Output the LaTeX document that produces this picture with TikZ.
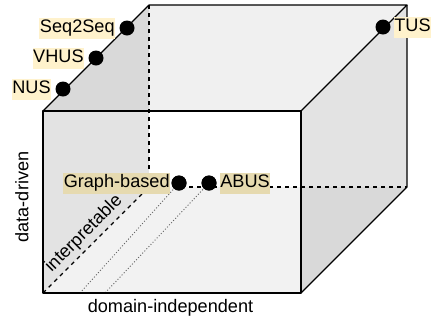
\documentclass[tikz,border=0pt]{standalone}
\usepackage{fontspec}
\setmainfont{Liberation Sans}
\definecolor{cdark}{HTML}{D9D9D9}
\definecolor{ctop}{HTML}{F0F0F0}
\definecolor{cmid}{HTML}{E3E3E3}
\definecolor{clight}{HTML}{F2F2F2}
\definecolor{labyel}{HTML}{FFF2CC}
\definecolor{labtan}{HTML}{E6DAB0}
\begin{document}
\begin{tikzpicture}[x=1bp,y=-1bp,
  edge/.style={line width=1.2bp, line join=round},
  hidden/.style={line width=1.2bp, dash pattern=on 4bp off 4bp},
  dotline/.style={line width=0.9bp, dash pattern=on 1bp off 2bp, black!60},
  dot/.style={circle, fill=black, inner sep=0pt, minimum size=15bp},
  lab/.style={fill=labyel, inner xsep=0.5bp, inner ysep=2bp, font=\fontsize{18.2}{21}\selectfont, text height=13.2bp, text depth=3.8bp},
  labin/.style={lab, fill=labtan},
  axis/.style={font=\fontsize{18.2}{21}\selectfont, inner sep=0pt}]
\useasboundingbox (0,0) rectangle (433,323);
% corners
\coordinate (F1) at (43,111);
\coordinate (F2) at (301,111);
\coordinate (F3) at (301,293);
\coordinate (F4) at (43,293);
\coordinate (B1) at (149,5);
\coordinate (B2) at (407,5);
\coordinate (B3) at (407,187);
\coordinate (B4) at (149,187);
\coordinate (T) at (149,111);
\coordinate (R) at (301,187);
% faces
\fill[cdark] (F1) -- (B1) -- (T) -- cycle;
\fill[ctop] (B1) -- (B2) -- (F2) -- (T) -- cycle;
\fill[cmid] (F1) -- (T) -- (B4) -- (F4) -- cycle;
\fill[clight] (F4) -- (B4) -- (R) -- (F3) -- cycle;
\fill[white] (T) -- (F2) -- (R) -- (B4) -- cycle;
\fill[cmid] (F2) -- (B2) -- (B3) -- (R) -- cycle;
\fill[cdark] (R) -- (B3) -- (F3) -- cycle;
% hidden edges
\draw[hidden] (B1) -- (B4);
\draw[hidden] (B4) -- (B3);
\draw[hidden] (F4) -- (B4);
% dots
\node[dot] (seq) at (127,28) {};
\node[dot] (vhus) at (96,58) {};
\node[dot] (nus) at (63,89) {};
\node[dot] (tus) at (383,27) {};
\node[dot] (graph) at (179,183) {};
\node[dot] (abus) at (209,183) {};
\coordinate (g0) at (80,293);
\coordinate (a0) at (105,293);
\draw[dotline] (graph.center) -- (g0);
\draw[dotline] (abus.center) -- (a0);
\node[dot] at (graph) {};
\node[dot] at (abus) {};
% visible edges
\draw[edge] (F1) rectangle (F3);
\draw[edge] (F1) -- (B1) -- (B2) -- (F2);
\draw[edge] (B2) -- (B3) -- (F3);
% labels
\node[lab, anchor=east] (lseq) at ([xshift=-4bp]seq.west) {Seq2Seq};
\node[lab, anchor=east] (lvhus) at ([xshift=-4bp]vhus.west) {VHUS};
\node[lab, anchor=east] (lnus) at ([xshift=-4bp]nus.west) {NUS};
\node[lab, anchor=west] (ltus) at ([xshift=3bp]tus.east) {TUS};
\node[labin, anchor=east] (lgraph) at ([xshift=-1bp]graph.west) {Graph-based};
\node[labin, anchor=west] (labus) at ([xshift=3bp]abus.east) {ABUS};
% axis texts
\node[axis, rotate=90] (dd) at (22,197) {data-driven};
\node[axis] (di) at (170.5,308) {domain-independent};
\node[axis, rotate=45] (interp) at (84,234) {interpretable};
\end{tikzpicture}
\end{document}
